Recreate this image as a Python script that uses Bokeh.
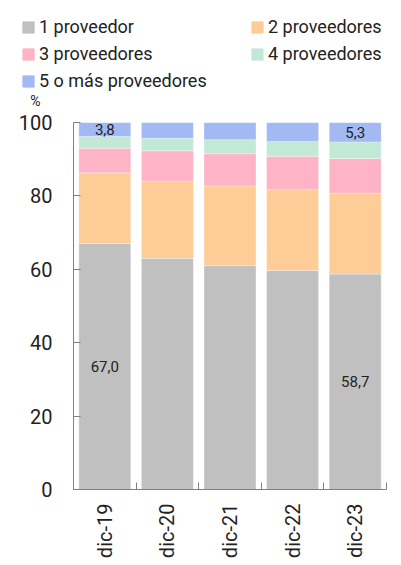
import math
from bokeh.plotting import figure
from bokeh.layouts import column
from bokeh.models import ColumnDataSource, FixedTicker, Legend, LegendItem, Label, LabelSet, Range1d
from bokeh.core.properties import value
from bokeh.embed import file_html
from bokeh.resources import INLINE

categories = ["dic-19", "dic-20", "dic-21", "dic-22", "dic-23"]
series_names = ["1 proveedor", "2 proveedores", "3 proveedores", "4 proveedores", "5 o más proveedores"]
uno = [67.0, 63.0, 61.0, 59.7, 58.7]
dos = [19.3, 21.0, 21.7, 22.0, 22.0]
tres = [6.7, 8.3, 8.8, 9.1, 9.5]
cuatro = [3.2, 3.4, 3.8, 4.0, 4.5]
cinco = [3.8, 4.3, 4.7, 5.2, 5.3]
y_ticks = [0, 20, 40, 60, 80, 100]
colors = ["#c0c0c0", "#fecc97", "#ffb3c6", "#c1e9d6", "#a3b9f4"]

FONT = "Roboto"
TXT = "#222222"
keys = ["s1", "s2", "s3", "s4", "s5"]
n = len(categories)
xs = list(range(n))
src = ColumnDataSource(dict(x=xs, s1=uno, s2=dos, s3=tres, s4=cuatro, s5=cinco))

# ---------- header (legend + unit) ----------
HEAD_H = 110
head = figure(width=401, height=HEAD_H, output_backend="svg", toolbar_location=None,
              x_axis_type=None, y_axis_type=None,
              x_range=Range1d(1000, 1401), y_range=Range1d(1000, 1000 + HEAD_H),
              min_border_left=0, min_border_right=0, min_border_top=0, min_border_bottom=0)
head.outline_line_color = None
head.border_fill_color = "white"
head.background_fill_color = "white"
head_r = head.vbar_stack(keys, x="x", width=0.83, color=colors, source=src)
legend = Legend(items=[LegendItem(label=nm, renderers=[r]) for nm, r in zip(series_names, head_r)],
                location=(21, 19), orientation="horizontal", ncols=2,
                glyph_width=14, glyph_height=14, label_standoff=4, label_width=205,
                label_height=21, spacing=6, padding=0, margin=0,
                border_line_color=None, background_fill_alpha=0,
                label_text_font=FONT, label_text_font_size="18px", label_text_color=TXT)
head.add_layout(legend, "center")
head.add_layout(Label(x=35, y=10, x_units="screen", y_units="screen", text="%",
                      text_align="center", text_baseline="middle", text_font=FONT,
                      text_font_size="14px", text_color=TXT))

# ---------- main chart ----------
p = figure(width=401, height=565 - HEAD_H, output_backend="svg", toolbar_location=None,
           x_range=(-0.5, n - 0.5), y_range=(0, 100),
           min_border_left=73, min_border_right=15, min_border_top=12, min_border_bottom=76)
p.outline_line_color = None
p.xgrid.visible = False
p.ygrid.visible = False
p.background_fill_color = None
p.border_fill_color = "white"

p.vbar_stack(keys, x="x", width=0.83, color=colors, source=src,
             line_color="white", line_alpha=0.3, line_width=1)

xa = p.xaxis[0]
xa.ticker = FixedTicker(ticks=xs, minor_ticks=[i - 0.5 for i in range(n + 1)])
xa.major_label_overrides = {i: c for i, c in enumerate(categories)}
xa.major_tick_in = 0
xa.major_tick_out = 0
xa.minor_tick_in = 7
xa.minor_tick_out = 0
xa.major_label_orientation = math.pi / 2
xa.major_label_standoff = 14
xa.major_label_text_font = FONT
xa.major_label_text_font_size = "20px"
xa.major_label_text_color = TXT
xa.axis_line_color = "#808080"
xa.minor_tick_line_color = "#808080"

ya = p.yaxis[0]
ya.ticker = FixedTicker(ticks=y_ticks, minor_ticks=[])
ya.major_tick_in = 7
ya.major_tick_out = 0
ya.minor_tick_in = 0
ya.minor_tick_out = 0
ya.major_label_standoff = 21
ya.major_label_text_font = FONT
ya.major_label_text_font_size = "20px"
ya.major_label_text_color = TXT
ya.axis_line_color = "#808080"
ya.major_tick_line_color = "#808080"

cum_top = [a + b + c + d for a, b, c, d in zip(uno, dos, tres, cuatro)]
lab_x, lab_y, lab_t = [], [], []
for i in (0, n - 1):
    lab_x.append(i); lab_y.append(uno[i] / 2); lab_t.append(f"{uno[i]:.1f}".replace(".", ","))
    lab_x.append(i); lab_y.append(cum_top[i] + cinco[i] / 2); lab_t.append(f"{cinco[i]:.1f}".replace(".", ","))
lsrc = ColumnDataSource(dict(x=lab_x, y=lab_y, t=lab_t))
p.add_layout(LabelSet(x="x", y="y", text="t", source=lsrc, text_align="center",
                      text_baseline="middle", text_font=value(FONT), text_font_size=value("15px"),
                      text_color=value(TXT)))

page = column(column(head), column(p), spacing=0)
open("out.html", "w").write(file_html(page, INLINE))
